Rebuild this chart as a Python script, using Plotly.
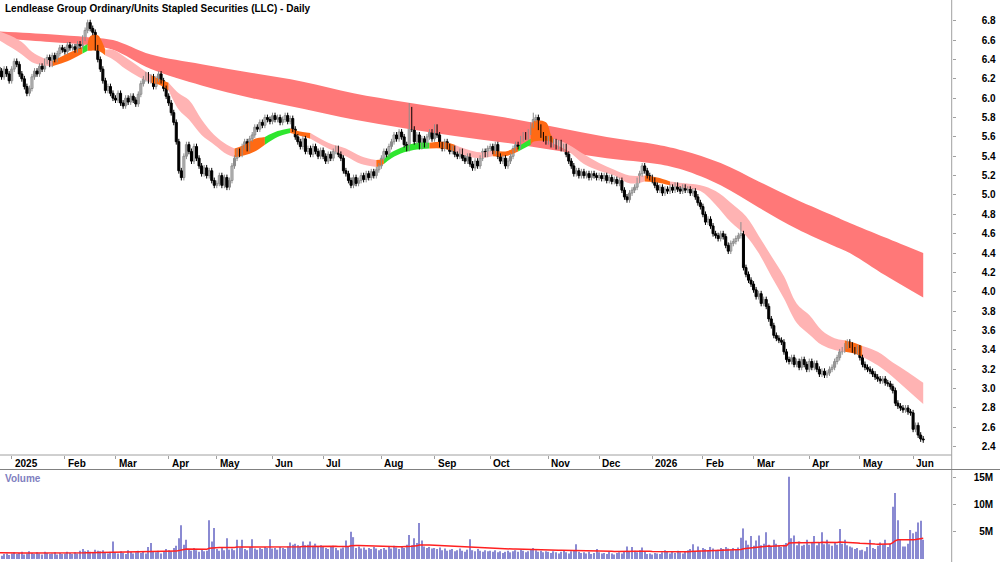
import numpy as np
import pandas as pd
import plotly.graph_objects as go

TITLE = "Lendlease Group Ordinary/Units Stapled Securities (LLC) - Daily"

# ---------------- trading calendar ----------------
holidays = ["2024-12-25", "2024-12-26", "2025-01-01", "2025-01-27", "2025-04-18",
            "2025-04-21", "2025-04-25", "2025-06-09", "2025-12-25", "2025-12-26",
            "2026-01-01", "2026-01-26", "2026-04-03", "2026-04-06"]
dates = [d for d in pd.bdate_range("2024-12-23", "2026-06-05")
         if d.strftime("%Y-%m-%d") not in holidays]

# ---------------- daily closes ----------------
close_dec24 = [6.28, 6.22, 6.30, 6.25, 6.18]
close_jan25 = [6.30, 6.38, 6.35, 6.25, 6.20, 6.12, 6.05, 6.10, 6.22, 6.28, 6.25, 6.33, 6.30,
               6.38, 6.42, 6.35, 6.44, 6.40, 6.46, 6.52, 6.50]
close_feb25 = [6.48, 6.55, 6.52, 6.53, 6.50, 6.56, 6.54, 6.62, 6.70, 6.78, 6.72, 6.68, 6.52,
               6.40, 6.30, 6.18, 6.08, 6.12, 6.05, 6.00]
close_mar25 = [5.98, 6.05, 5.95, 5.92, 6.00, 5.96, 6.02, 5.98, 5.94, 6.04, 6.15, 6.20, 6.24,
               6.18, 6.22, 6.12, 6.20, 6.25, 6.18, 6.10, 6.02]
close_apr25 = [5.95, 5.85, 5.75, 5.55, 5.25, 5.18, 5.40, 5.52, 5.45, 5.35, 5.50, 5.38, 5.30,
               5.22, 5.28, 5.20, 5.25, 5.15, 5.10]
close_may25 = [5.12, 5.20, 5.10, 5.18, 5.08, 5.15, 5.30, 5.38, 5.45, 5.42, 5.50, 5.55, 5.48,
               5.58, 5.62, 5.70, 5.68, 5.75, 5.72, 5.80, 5.78, 5.76]
close_jun25 = [5.82, 5.78, 5.80, 5.75, 5.78, 5.82, 5.76, 5.79, 5.68, 5.60, 5.55, 5.50, 5.58,
               5.45, 5.48, 5.42, 5.50, 5.45, 5.40, 5.46]
close_jul25 = [5.40, 5.35, 5.42, 5.38, 5.45, 5.48, 5.42, 5.38, 5.25, 5.22, 5.15, 5.10, 5.18,
               5.12, 5.15, 5.20, 5.16, 5.22, 5.18, 5.24, 5.20, 5.26, 5.30]
close_aug25 = [5.38, 5.45, 5.42, 5.50, 5.55, 5.62, 5.58, 5.65, 5.60, 5.52, 5.48, 5.88, 5.68,
               5.55, 5.62, 5.50, 5.58, 5.52, 5.60, 5.65, 5.58]
close_sep25 = [5.70, 5.62, 5.52, 5.48, 5.55, 5.50, 5.45, 5.48, 5.42, 5.40, 5.45, 5.38, 5.35,
               5.40, 5.32, 5.28, 5.35, 5.30, 5.38, 5.45, 5.42, 5.48]
close_oct25 = [5.50, 5.45, 5.52, 5.40, 5.35, 5.38, 5.30, 5.35, 5.40, 5.48, 5.52, 5.50, 5.58,
               5.62, 5.60, 5.65, 5.72, 5.78, 5.80, 5.70, 5.62, 5.58, 5.55]
close_nov25 = [5.58, 5.52, 5.55, 5.50, 5.54, 5.48, 5.50, 5.42, 5.35, 5.30, 5.22, 5.25, 5.20,
               5.24, 5.20, 5.22, 5.18, 5.22, 5.20, 5.18]
close_dec25 = [5.20, 5.17, 5.20, 5.15, 5.18, 5.14, 5.16, 5.12, 5.15, 5.05, 4.98, 4.95, 5.02,
               5.05, 5.08, 5.15, 5.22, 5.30, 5.25, 5.20, 5.18]
close_jan26 = [5.15, 5.10, 5.05, 5.08, 5.02, 5.06, 5.04, 5.08, 5.05, 5.10, 5.06, 5.04, 5.08,
               5.05, 5.06, 5.02, 5.04, 4.98, 4.92, 4.88]
close_feb26 = [4.80, 4.72, 4.75, 4.68, 4.60, 4.58, 4.55, 4.60, 4.57, 4.48, 4.42, 4.50, 4.52,
               4.55, 4.58, 4.60, 4.25, 4.18, 4.12, 4.08]
close_mar26 = [4.02, 3.95, 3.98, 3.88, 3.92, 3.85, 3.72, 3.65, 3.55, 3.52, 3.50, 3.48, 3.38,
               3.30, 3.28, 3.32, 3.25, 3.28, 3.22, 3.30, 3.25, 3.20]
close_apr26 = [3.28, 3.22, 3.26, 3.20, 3.15, 3.18, 3.14, 3.16, 3.20, 3.22, 3.28, 3.32, 3.38,
               3.40, 3.44, 3.48, 3.45, 3.40, 3.38, 3.42]
close_may26 = [3.32, 3.25, 3.22, 3.20, 3.18, 3.15, 3.12, 3.10, 3.08, 3.10, 3.06, 3.05, 3.02,
               2.98, 2.85, 2.82, 2.80, 2.78, 2.80, 2.76, 2.75]
close_jun26 = [2.58, 2.62, 2.52, 2.48, 2.47]

first_open = 6.32
high_spikes = {30: 6.81, 157: 5.95, 206: 5.85, 288: 4.72}   # bar index -> high
WICK = 0.03

# ---------------- daily volume, millions ----------------
vol_dec24 = [0.8, 0.6, 0.9, 1.0, 0.7]
vol_jan25 = [1.0, 1.2, 0.9, 1.1, 1.3, 0.8, 1.0, 1.4, 1.1, 0.9, 1.2, 1.0, 0.8, 1.3, 1.1, 0.9,
             1.0, 1.2, 0.8, 1.1, 0.9]
vol_feb25 = [1.0, 1.3, 1.1, 0.9, 1.2, 1.0, 1.5, 1.8, 1.4, 1.6, 1.3, 1.2, 1.7, 1.5, 1.4, 1.6,
             1.2, 1.0, 1.3, 3.2]
vol_mar25 = [1.2, 1.0, 1.4, 1.1, 0.9, 1.6, 1.3, 1.0, 1.2, 1.5, 1.1, 1.3, 1.0, 2.2, 2.9, 1.4,
             1.2, 1.5, 1.0, 1.3, 1.8]
vol_apr25 = [1.6, 1.4, 2.0, 2.4, 3.8, 6.2, 2.6, 3.5, 1.8, 1.5, 2.0, 1.6, 1.3, 1.8, 1.4, 1.5,
             7.1, 3.2, 5.7]
vol_may25 = [1.8, 1.5, 2.0, 1.6, 3.8, 1.7, 1.9, 1.6, 3.5, 2.1, 3.5, 1.8, 1.6, 2.2, 3.6, 1.9,
             1.7, 2.0, 1.8, 2.2, 2.0, 3.6]
vol_jun25 = [1.9, 2.0, 1.7, 2.2, 2.0, 1.8, 2.3, 3.0, 2.6, 2.8, 2.5, 2.3, 3.2, 2.5, 2.6, 3.2,
             2.4, 2.8, 2.2, 2.5]
vol_jul25 = [2.3, 2.0, 1.8, 2.2, 2.4, 2.0, 1.6, 1.9, 2.1, 3.4, 2.2, 5.0, 4.0, 2.0, 2.3, 1.9,
             2.1, 1.7, 2.0, 1.8, 2.2, 1.9, 1.6]
vol_aug25 = [1.8, 2.0, 1.7, 2.2, 1.9, 2.4, 2.1, 1.8, 2.3, 2.0, 2.6, 4.4, 2.5, 3.8, 2.9, 6.6,
             3.4, 2.3, 2.0, 2.2, 1.9]
vol_sep25 = [2.0, 1.8, 2.1, 1.6, 1.9, 1.5, 1.7, 1.8, 1.4, 1.6, 1.9, 1.5, 1.3, 1.7, 3.6, 1.6,
             1.4, 1.8, 1.5, 1.3, 1.6, 1.4]
vol_oct25 = [1.5, 1.3, 1.6, 1.2, 1.4, 1.1, 1.3, 1.5, 1.2, 1.4, 1.6, 1.3, 1.7, 1.5, 1.2, 1.4,
             1.8, 2.0, 1.6, 1.3, 1.5, 1.2, 1.4]
vol_nov25 = [1.3, 1.1, 1.4, 1.2, 1.0, 1.3, 1.5, 1.2, 1.0, 1.4, 1.6, 2.7, 1.3, 1.1, 1.2, 1.0,
             1.3, 0.9, 1.1, 1.8]
vol_dec25 = [1.2, 1.0, 1.1, 0.9, 1.3, 1.0, 0.8, 1.1, 1.2, 1.0, 1.4, 2.3, 1.3, 2.2, 1.5, 1.2,
             1.6, 2.1, 1.3, 0.9, 1.0]
vol_jan26 = [0.8, 1.1, 1.0, 0.9, 1.2, 1.6, 1.3, 1.0, 1.4, 1.1, 1.5, 1.2, 1.0, 1.3, 1.6, 1.8,
             2.7, 1.4, 2.3, 1.5]
vol_feb26 = [2.0, 1.8, 1.6, 2.2, 1.9, 1.5, 1.7, 2.0, 1.8, 2.2, 1.9, 1.6, 2.0, 1.8, 2.1, 3.9,
             5.6, 3.4, 2.6, 4.2]
vol_mar26 = [2.4, 3.4, 4.3, 2.5, 2.8, 4.9, 2.6, 2.3, 3.5, 2.8, 2.4, 2.2, 2.6, 2.9, 15.1, 3.8,
             4.3, 2.5, 3.2, 2.4, 2.6, 3.5]
vol_apr26 = [2.6, 2.9, 4.2, 2.5, 3.0, 4.9, 2.7, 3.5, 2.7, 2.4, 2.9, 2.6, 5.5, 2.8, 3.5, 2.5,
             2.3, 2.1, 1.8, 2.0]
vol_may26 = [1.6, 1.7, 1.4, 2.2, 3.5, 2.0, 1.8, 2.4, 3.0, 2.6, 3.5, 2.2, 2.8, 9.6, 12.1, 7.1,
             3.5, 2.3, 2.3, 2.8, 5.3]
vol_jun26 = [4.7, 5.0, 6.7, 7.0, 3.5]

# ---------------- trend bands (x = bar index from 2 Jan 2025) ----------------
long_i = [-5, 15, 30, 40, 55, 75, 95, 115, 135, 155, 175, 195, 215, 235, 255, 265, 280, 295,
          310, 325, 331, 345, 360]
long_hi = [6.69, 6.66, 6.63, 6.60, 6.45, 6.35, 6.26, 6.17, 6.05, 5.96, 5.88, 5.80, 5.70, 5.60,
           5.52, 5.46, 5.33, 5.14, 4.95, 4.78, 4.71, 4.56, 4.40]
long_lo = [6.62, 6.58, 6.55, 6.50, 6.30, 6.13, 6.00, 5.89, 5.78, 5.69, 5.61, 5.54, 5.46, 5.38,
           5.32, 5.26, 5.10, 4.87, 4.65, 4.47, 4.40, 4.17, 3.94]

short_i = [-5, 0, 4, 8, 12, 16, 22, 28, 30, 31, 34, 35, 37, 40, 45, 50, 55, 58, 62, 66, 70, 75,
           80, 85, 88, 92, 96, 100, 105, 110, 113, 118, 125, 132, 138, 144, 147, 150, 155, 160,
           165, 170, 175, 180, 185, 190, 195, 200, 205, 206, 211, 213, 214, 220, 226, 232, 238,
           244, 250, 255, 260, 266, 272, 278, 284, 290, 295, 300, 305, 310, 315, 320, 325, 329,
           333, 336, 342, 348, 354, 360]
short_lo = [6.60, 6.52, 6.45, 6.37, 6.34, 6.33, 6.38, 6.46, 6.49, 6.49, 6.49, 6.48, 6.44, 6.40,
            6.30, 6.22, 6.16, 6.14, 6.08, 5.88, 5.78, 5.62, 5.52, 5.42, 5.39, 5.41, 5.45, 5.52,
            5.60, 5.64, 5.62, 5.58, 5.48, 5.40, 5.32, 5.29, 5.32, 5.38, 5.44, 5.47, 5.48, 5.48,
            5.45, 5.40, 5.38, 5.40, 5.40, 5.45, 5.52, 5.55, 5.56, 5.55, 5.53, 5.45, 5.32, 5.25,
            5.20, 5.12, 5.14, 5.13, 5.10, 5.07, 5.04, 4.90, 4.72, 4.58, 4.40, 4.16, 3.93, 3.68,
            3.56, 3.45, 3.40, 3.38, 3.36, 3.33, 3.24, 3.12, 2.98, 2.84]
short_hi = [6.69, 6.64, 6.58, 6.48, 6.42, 6.38, 6.46, 6.53, 6.56, 6.64, 6.65, 6.62, 6.50, 6.50,
            6.42, 6.33, 6.24, 6.20, 6.16, 6.05, 5.98, 5.78, 5.62, 5.52, 5.48, 5.52, 5.58, 5.60,
            5.66, 5.69, 5.66, 5.64, 5.54, 5.48, 5.40, 5.36, 5.37, 5.44, 5.50, 5.54, 5.54, 5.55,
            5.52, 5.47, 5.44, 5.46, 5.45, 5.50, 5.58, 5.76, 5.75, 5.62, 5.58, 5.52, 5.42, 5.33,
            5.26, 5.20, 5.20, 5.18, 5.14, 5.12, 5.10, 5.04, 4.92, 4.78, 4.58, 4.37, 4.16, 3.88,
            3.76, 3.60, 3.52, 3.50, 3.47, 3.44, 3.38, 3.27, 3.17, 3.06]
# colour state of the short band between consecutive bounds
seg_bounds = [-5, 16, 28, 30, 37, 55, 62, 88, 100, 110, 118, 144, 147, 165, 175, 190, 200, 205,
              214, 250, 260, 329, 336, 360]
seg_state = ["down", "mixed", "up", "mixed", "down", "mixed", "down", "mixed", "up", "mixed",
             "down", "mixed", "up", "mixed", "down", "mixed", "up", "mixed", "down", "mixed",
             "down", "mixed", "down"]

# ---------------- styles ----------------
FONT = "Liberation Sans, Arial, sans-serif"
STATE_COLOR = {"down": "#ffb3b3", "mixed": "#ff6a14", "up": "#2ee62e"}
LONG_COLOR = "#ff7878"
AXIS_GREY = "#a0a0a0"
UP_LINE = "#8c8c8c"

close = (close_dec24 + close_jan25 + close_feb25 + close_mar25 + close_apr25 + close_may25 +
         close_jun25 + close_jul25 + close_aug25 + close_sep25 + close_oct25 + close_nov25 +
         close_dec25 + close_jan26 + close_feb26 + close_mar26 + close_apr26 + close_may26 +
         close_jun26)
volume = (vol_dec24 + vol_jan25 + vol_feb25 + vol_mar25 + vol_apr25 + vol_may25 + vol_jun25 +
          vol_jul25 + vol_aug25 + vol_sep25 + vol_oct25 + vol_nov25 + vol_dec25 + vol_jan26 +
          vol_feb26 + vol_mar26 + vol_apr26 + vol_may26 + vol_jun26)
n = len(dates)
assert len(close) == n and len(volume) == n, (len(close), len(volume), n)

first = [d.strftime("%Y-%m-%d") for d in dates].index("2025-01-02")
xs = [k - first for k in range(n)]

opens = [first_open] + close[:-1]
highs, lows = [], []
for k in range(n):
    hi = max(opens[k], close[k]) + WICK
    lo = min(opens[k], close[k]) - WICK
    if xs[k] in high_spikes:
        hi = high_spikes[xs[k]]
    highs.append(hi)
    lows.append(lo)

fig = go.Figure()

# long-term band
fig.add_trace(go.Scatter(x=long_i, y=long_lo, mode="lines", line=dict(width=0, shape="spline"),
                         hoverinfo="skip", showlegend=False))
fig.add_trace(go.Scatter(x=long_i, y=long_hi, mode="lines", line=dict(width=0, shape="spline"),
                         fill="tonexty", fillcolor=LONG_COLOR, hoverinfo="skip",
                         showlegend=False))

# short-term band, coloured by state
for a, b, st in zip(seg_bounds[:-1], seg_bounds[1:], seg_state):
    idx = [k for k, v in enumerate(short_i) if a <= v <= b]
    sx = [short_i[k] for k in idx]
    fig.add_trace(go.Scatter(x=sx, y=[short_lo[k] for k in idx], mode="lines",
                             line=dict(width=0, shape="spline"), hoverinfo="skip",
                             showlegend=False))
    fig.add_trace(go.Scatter(x=sx, y=[short_hi[k] for k in idx], mode="lines",
                             line=dict(width=0, shape="spline"), fill="tonexty",
                             fillcolor=STATE_COLOR[st], hoverinfo="skip", showlegend=False))

# candles: wicks (line segments) then bodies (floating bars)
for up in (True, False):
    sel = [k for k in range(n) if (close[k] >= opens[k]) == up]
    wx, wy = [], []
    for k in sel:
        wx += [xs[k], xs[k], None]
        wy += [lows[k], highs[k], None]
    col = UP_LINE if up else "#000000"
    fig.add_trace(go.Scatter(x=wx, y=wy, mode="lines", line=dict(color=col, width=1),
                             hoverinfo="skip", showlegend=False))
    base = [min(opens[k], close[k]) for k in sel]
    height = [max(abs(close[k] - opens[k]), 0.006) for k in sel]
    fig.add_trace(go.Bar(x=[xs[k] for k in sel], y=height, base=base, width=0.8,
                         marker=dict(color="#ffffff" if up else "#000000",
                                     line=dict(color=col, width=1)),
                         hoverinfo="skip", showlegend=False))

# volume
fig.add_trace(go.Bar(x=xs, y=volume, width=0.45, marker=dict(color="#8a8ad2", line=dict(width=0)),
                     xaxis="x2", yaxis="y2", showlegend=False, hoverinfo="skip"))
vma, e = [], 1.15
alpha = 2.0 / 51.0
for v in volume:
    e = e + alpha * (v - e)
    vma.append(e)
fig.add_trace(go.Scatter(x=xs, y=vma, mode="lines", line=dict(color="#ff2020", width=1.5),
                         xaxis="x2", yaxis="y2", showlegend=False, hoverinfo="skip"))

# ---------------- axes & layout ----------------
W, H = 1000, 562
AX_X = 951.7 / W
MAIN_BOTTOM = 1 - 455 / H
VOL_TOP = 1 - 470 / H
xrange_ = [-4.62, 371.25]

tick_idx, tick_txt = [], []
months = ["Jan", "Feb", "Mar", "Apr", "May", "Jun", "Jul", "Aug", "Sep", "Oct", "Nov", "Dec"]
for k in range(1, n):
    if dates[k].month != dates[k - 1].month:
        tick_idx.append(xs[k])
        tick_txt.append(str(dates[k].year) if dates[k].month == 1 else months[dates[k].month - 1])

price_ticks = [round(2.4 + 0.2 * k, 1) for k in range(23)]

fig.update_layout(
    width=W, height=H, margin=dict(l=0, r=0, t=0, b=0), autosize=False,
    paper_bgcolor="white", plot_bgcolor="white", showlegend=False, barmode="overlay",
    xaxis=dict(domain=[0, AX_X], range=xrange_, showgrid=False, zeroline=False,
               showline=False, ticks="outside", ticklen=3, tickcolor=AXIS_GREY,
               tickvals=tick_idx, showticklabels=False, anchor="y"),
    yaxis=dict(domain=[MAIN_BOTTOM, 1], range=[2.3143, 7.0138], side="right", anchor="x",
               showgrid=False, zeroline=False, showline=False, ticks="outside", ticklen=3,
               tickcolor=AXIS_GREY, tickvals=price_ticks,
               ticktext=[f"{p:.1f}" for p in price_ticks], ticklabelstandoff=24,
               tickfont=dict(family=FONT, size=10, color="black", weight="bold")),
    xaxis2=dict(domain=[0, AX_X], range=xrange_, visible=False, anchor="y2"),
    yaxis2=dict(domain=[0, VOL_TOP], range=[-0.57, 16.34], side="right", anchor="x2",
                showgrid=False, zeroline=False, showline=False, ticks="outside", ticklen=3,
                tickcolor=AXIS_GREY, tickvals=[5, 10, 15],
                ticktext=["\u20075M", "10M", "15M"], ticklabelstandoff=16,
                tickfont=dict(family=FONT, size=10, color="black", weight="bold")),
)

shapes = [
    dict(type="line", xref="paper", yref="paper", x0=AX_X, x1=AX_X, y0=0, y1=1,
         line=dict(color=AXIS_GREY, width=1)),
    dict(type="line", xref="paper", yref="paper", x0=0, x1=AX_X, y0=MAIN_BOTTOM, y1=MAIN_BOTTOM,
         line=dict(color=AXIS_GREY, width=1)),
    dict(type="line", xref="paper", yref="paper", x0=0, x1=1, y0=1 - 469.5 / H, y1=1 - 469.5 / H,
         line=dict(color="#808080", width=1)),
]
fig.update_layout(shapes=shapes)

ann = [dict(text=TITLE, xref="paper", yref="paper", x=3 / W, y=1 - 8.5 / H, xanchor="left",
            yanchor="middle", showarrow=False,
            font=dict(family=FONT, size=10, color="black", weight="bold")),
       dict(text="Volume", xref="paper", yref="paper", x=3 / W, y=1 - 478 / H, xanchor="left",
            yanchor="middle", showarrow=False,
            font=dict(family=FONT, size=10, color="#8080c0", weight="bold"))]
for ti, tt in zip(tick_idx, tick_txt):
    ann.append(dict(text=tt, xref="x", yref="paper", x=ti, y=1 - 463 / H, xanchor="left",
                    yanchor="middle", xshift=1, showarrow=False,
                    font=dict(family=FONT, size=10, color="black", weight="bold")))
fig.update_layout(annotations=ann)

fig.write_html("out.html", config={"displayModeBar": False})
